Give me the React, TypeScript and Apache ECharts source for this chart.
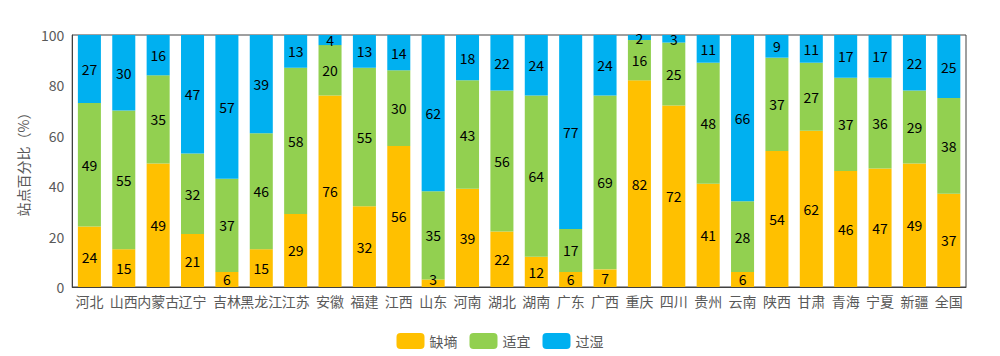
import React, { useEffect, useRef } from "react";
import * as echarts from "echarts";

const categories = ["河北","山西","内蒙古","辽宁","吉林","黑龙江","江苏","安徽","福建","江西","山东","河南","湖北","湖南","广东","广西","重庆","四川","贵州","云南","陕西","甘肃","青海","宁夏","新疆","全国"];
const dry = [24,15,49,21,6,15,29,76,32,56,3,39,22,12,6,7,82,72,41,6,54,62,46,47,49,37];
const suitable = [49,55,35,32,37,46,58,20,55,30,35,43,56,64,17,69,16,25,48,28,37,27,37,36,29,38];
const wet = [27,30,16,47,57,39,13,4,13,14,62,18,22,24,77,24,2,3,11,66,9,11,17,17,22,25];
const yTicks = { min: 0, max: 100, interval: 20 };

const FONT = "'Noto Sans CJK SC', 'Noto Sans', sans-serif";

export default function App() {
  const ref = useRef<HTMLDivElement>(null);
  useEffect(() => {
    if (!ref.current) return;
    const chart = echarts.init(ref.current, null, { renderer: "svg" });
    const mk = (name: string, data: number[], color: string, nudge: number) => ({
      name,
      type: "bar",
      stack: "total",
      data: data.map((v) => (v < 5 ? { value: v, label: { offset: [0, nudge] } } : v)),
      barWidth: "67%",
      itemStyle: { color },
      label: { show: true, position: "inside", color: "#000", fontSize: 14, lineHeight: 12, fontFamily: FONT },
    });
    chart.setOption({
      animation: false,
      textStyle: { fontFamily: FONT },
      grid: { left: 61, right: 26, top: 27, bottom: 69, show: true, borderColor: "#404040", borderWidth: 1 },
      legend: {
        bottom: 2,
        left: "center",
        itemWidth: 28,
        itemHeight: 16,
        itemGap: 12,
        icon: "roundRect",
        textStyle: { color: "#595959", fontSize: 14, fontFamily: FONT },
        data: ["缺墒", "适宜", "过湿"],
      },
      xAxis: {
        type: "category",
        data: categories,
        axisLine: { lineStyle: { color: "#404040" } },
        axisTick: { inside: true, length: 5, lineStyle: { color: "#404040" } },
        axisLabel: { color: "#595959", fontSize: 14, interval: 0, margin: 7, fontFamily: FONT },
      },
      yAxis: {
        type: "value",
        min: yTicks.min,
        max: yTicks.max,
        interval: yTicks.interval,
        name: "站点百分比（%）",
        nameLocation: "middle",
        nameGap: 32,
        nameTextStyle: { color: "#595959", fontSize: 14, fontFamily: FONT },
        axisLine: { show: true, lineStyle: { color: "#404040" } },
        axisTick: { show: false },
        splitLine: { show: false },
        axisLabel: { color: "#595959", fontSize: 14, margin: 8, fontFamily: FONT },
      },
      series: [
        mk("缺墒", dry, "#FFC000", -4),
        mk("适宜", suitable, "#92D050", 0),
        mk("过湿", wet, "#00B0F0", 0),
      ],
    });
    return () => chart.dispose();
  }, []);
  return <div ref={ref} style={{ width: 984, height: 348 }} />;
}
